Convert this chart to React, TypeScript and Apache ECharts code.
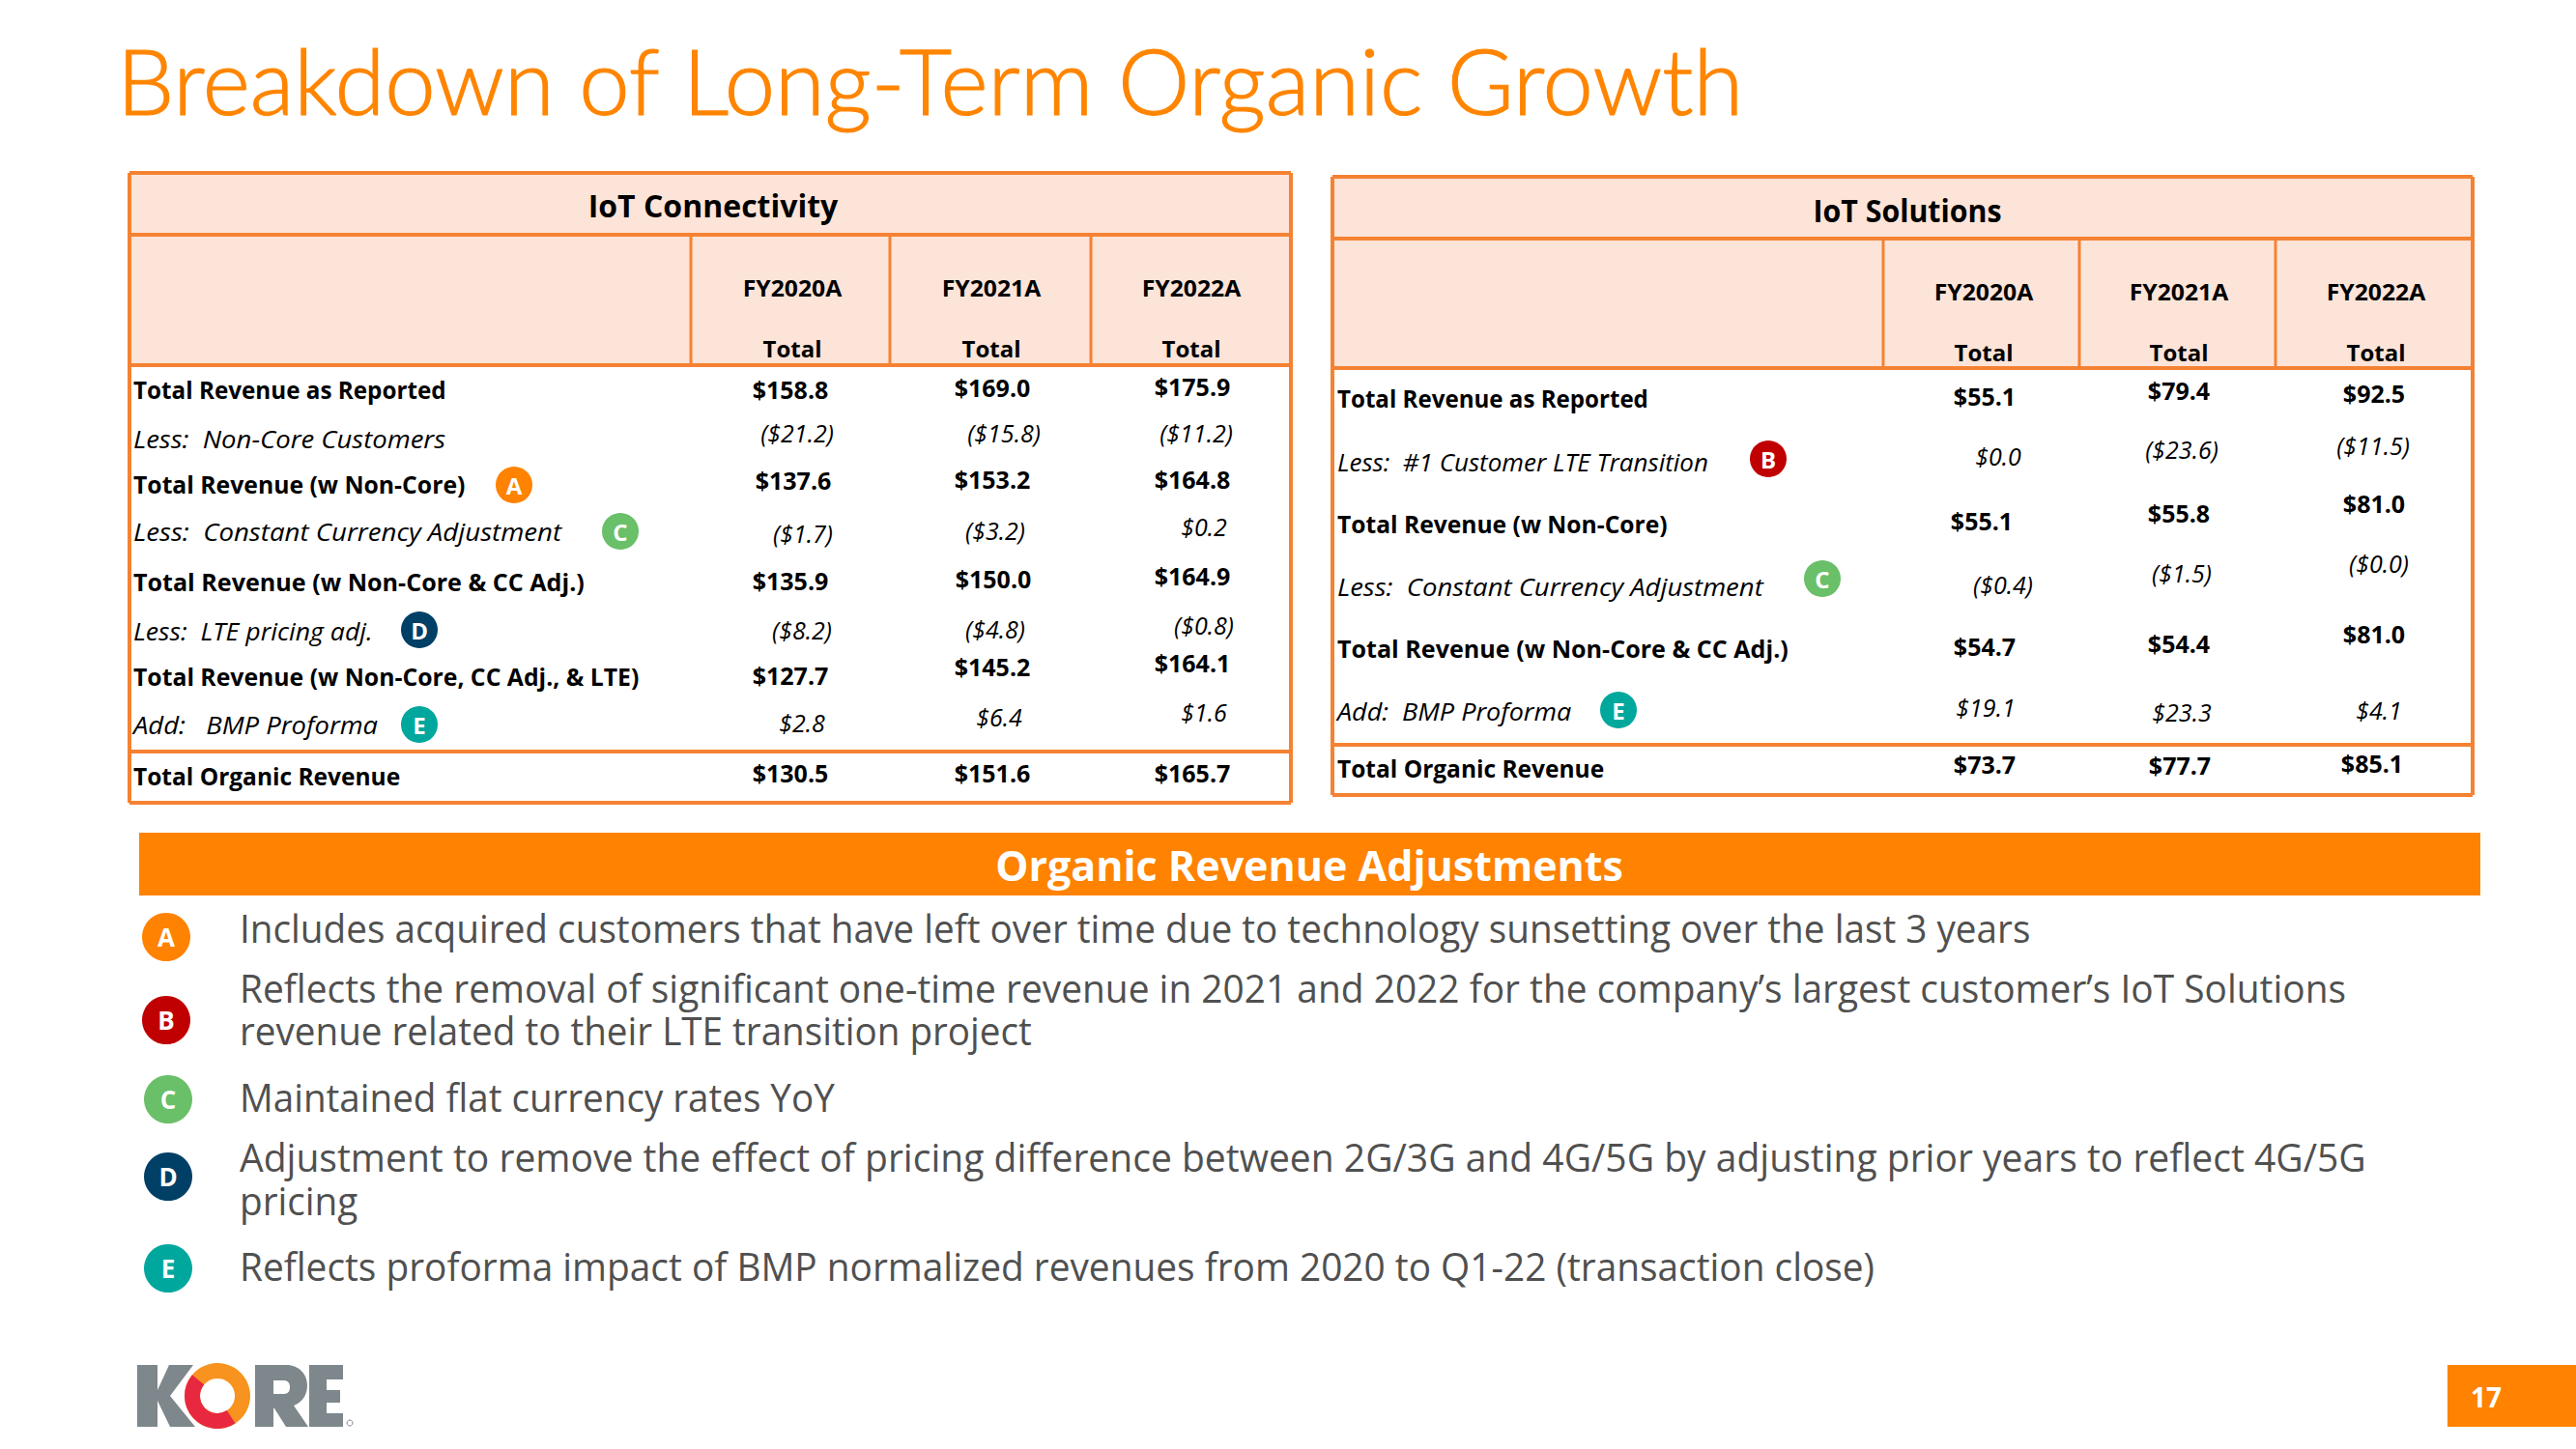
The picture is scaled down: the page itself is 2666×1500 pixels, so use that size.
import React, { useEffect, useRef } from "react";
import * as echarts from "echarts";

// ---------- content ----------
const pageTitle = "Breakdown of Long-Term Organic Growth";
const years = ["FY2020A", "FY2021A", "FY2022A"];
const subHeader = "Total";

const connTitle = "IoT Connectivity";
const connRows = [
  "Total Revenue as Reported",
  "Less:  Non-Core Customers",
  "Total Revenue (w Non-Core)",
  "Less:  Constant Currency Adjustment",
  "Total Revenue (w Non-Core & CC Adj.)",
  "Less:  LTE pricing adj.",
  "Total Revenue (w Non-Core, CC Adj., & LTE)",
  "Add:   BMP Proforma",
  "Total Organic Revenue",
];
const conn2020 = ["$158.8", "($21.2)", "$137.6", "($1.7)", "$135.9", "($8.2)", "$127.7", "$2.8", "$130.5"];
const conn2021 = ["$169.0", "($15.8)", "$153.2", "($3.2)", "$150.0", "($4.8)", "$145.2", "$6.4", "$151.6"];
const conn2022 = ["$175.9", "($11.2)", "$164.8", "$0.2", "$164.9", "($0.8)", "$164.1", "$1.6", "$165.7"];

const solTitle = "IoT Solutions";
const solRows = [
  "Total Revenue as Reported",
  "Less:  #1 Customer LTE Transition",
  "Total Revenue (w Non-Core)",
  "Less:  Constant Currency Adjustment",
  "Total Revenue (w Non-Core & CC Adj.)",
  "Add:  BMP Proforma",
  "Total Organic Revenue",
];
const sol2020 = ["$55.1", "$0.0", "$55.1", "($0.4)", "$54.7", "$19.1", "$73.7"];
const sol2021 = ["$79.4", "($23.6)", "$55.8", "($1.5)", "$54.4", "$23.3", "$77.7"];
const sol2022 = ["$92.5", "($11.5)", "$81.0", "($0.0)", "$81.0", "$4.1", "$85.1"];

const bannerText = "Organic Revenue Adjustments";
const noteLetters = ["A", "B", "C", "D", "E"];
const noteLines = [
  ["Includes acquired customers that have left over time due to technology sunsetting over the last 3 years"],
  [
    "Reflects the removal of significant one-time revenue in 2021 and 2022 for the company\u2019s largest customer\u2019s IoT Solutions",
    "revenue related to their LTE transition project",
  ],
  ["Maintained flat currency rates YoY"],
  [
    "Adjustment to remove the effect of pricing difference between 2G/3G and 4G/5G by adjusting prior years to reflect 4G/5G",
    "pricing",
  ],
  ["Reflects proforma impact of BMP normalized revenues from 2020 to Q1-22 (transaction close)"],
];
const pageNumber = "17";

// ---------- layout (pixel positions of the slide) ----------
const ORANGE = "#F58232";
const PEACH = "#FDE4D8";
const BANNER = "#FF8200";
const badgeColor: Record<string, string> = { A: "#FF8200", B: "#C00000", C: "#6ABF69", D: "#003F66", E: "#00A79D" };
const HEAD = "Lato, 'Noto Sans', sans-serif";
const BODY = "'Open Sans', 'Noto Sans', sans-serif";
const SHIFT = -1.5;

const connLayout = {
  x0: 134, x1: 1336, top: 179, titleLine: 243, headLine: 378, footLine: 778, bottom: 831,
  cols: [715, 921, 1129], titleX: 738, titleY: 212, titleScale: 0.97, yearY: 298, totalY: 360, yearX: [820, 1026, 1233], totalX: [820, 1026, 1233],
  labelX: 138, labelY: [404.5, 455.5, 502.5, 552.5, 603.5, 654.5, 701.5, 751.5, 804.5],
  labelScale: [0.97, 1.1, 0.99, 1.106, 1.004, 1.066, 0.991, 1.096, 0.98],
  xs: [
    [818, 825, 821, 831, 818, 830, 818, 830, 818],
    [1027, 1039, 1027, 1030, 1028, 1030, 1027, 1034, 1027],
    [1234, 1238, 1234, 1246, 1234, 1246, 1234, 1246, 1234],
  ],
  ys: [
    [404, 449, 498, 553, 602, 653, 700, 749, 801],
    [402, 449, 497, 550, 600, 652, 691, 743, 801],
    [401, 449, 497, 546, 597, 648, 687, 738, 801],
  ],
  badges: [["A", 532, 502], ["C", 642, 550], ["D", 434, 652], ["E", 434, 750]] as [string, number, number][],
};
const solLayout = {
  x0: 1379, x1: 2559, top: 183, titleLine: 247, headLine: 381, footLine: 771, bottom: 823,
  cols: [1949, 2152, 2355], titleX: 1974, titleY: 217, titleScale: 0.92, yearY: 302, totalY: 364, yearX: [2053, 2255, 2459], totalX: [2053, 2255, 2459],
  labelX: 1384, labelY: [413.5, 479.5, 543.5, 608.5, 672.5, 737.5, 796.5],
  labelScale: [0.965, 1.04, 0.985, 1.1, 1.004, 1.08, 0.98],
  xs: [
    [2054, 2068, 2051, 2073, 2054, 2055, 2054],
    [2255, 2258, 2255, 2258, 2255, 2258, 2256],
    [2457, 2456, 2457, 2462, 2457, 2462, 2455],
  ],
  ys: [
    [411, 473, 540, 606, 670, 733, 792],
    [405, 466, 532, 594, 667, 738, 793],
    [408, 462, 522, 584, 657, 736, 791],
  ],
  badges: [["B", 1830, 475], ["C", 1886, 599], ["E", 1675, 735]] as [string, number, number][],
};
const noteBadgeXY: [number, number][] = [[172, 970], [172, 1056], [174, 1138], [174, 1218], [174, 1313]];
const noteTextY = [[960.5], [1022.5, 1066.5], [1135.5], [1197.5, 1242.5], [1310.5]];
const noteScale = [[0.968], [0.972, 0.966], [0.965], [0.976, 0.968], [0.971]];

const KORE_R =
  "M264 1413 H296 C310 1413 318 1423 318 1434 C318 1445 312 1452 304 1455 L319 1477 H296 L284 1458 H283 V1477 H264 Z " +
  "M283 1429 V1443 H294 C299 1443 300 1439 300 1436 C300 1432 298 1429 294 1429 Z";
const KORE_K: number[][] = [[142, 1413], [163, 1413], [163, 1439], [175, 1413], [200, 1413], [176, 1445], [202, 1477], [176, 1477], [163, 1450], [163, 1477], [142, 1477]];
const KORE_E: number[][] = [[320, 1413], [355, 1413], [355, 1428], [338, 1428], [338, 1439], [352, 1439], [352, 1452], [338, 1452], [338, 1463], [355, 1463], [355, 1477], [320, 1477]];

function text(str: string, x: number, y: number, o: any = {}) {
  const { scaleX, ...style } = o;
  return {
    type: "text",
    x,
    y,
    scaleX: scaleX ?? 1,
    silent: true,
    style: { text: str, align: "left", verticalAlign: "middle", fill: "#000", fontFamily: BODY, fontSize: 26, ...style },
  };
}
function rect(x: number, y: number, w: number, h: number, fill: string) {
  return { type: "rect", silent: true, shape: { x, y, width: w, height: h }, style: { fill } };
}
function line(x1: number, y1: number, x2: number, y2: number, w: number) {
  return { type: "line", silent: true, shape: { x1, y1, x2, y2 }, style: { stroke: ORANGE, lineWidth: w } };
}
function badge(l: string, x: number, y: number, r: number, fs: number) {
  return [
    { type: "circle", silent: true, shape: { cx: x, cy: y, r }, style: { fill: badgeColor[l] } },
    text(l, x, y, { align: "center", fill: "#fff", fontSize: fs, fontWeight: "bold" }),
  ];
}

function table(title: string, rows: string[], vals: string[][], L: any) {
  const out: any[] = [];
  out.push(rect(L.x0, L.top, L.x1 - L.x0, L.headLine - L.top, PEACH));
  out.push(line(L.x0, L.top, L.x1, L.top, 4), line(L.x0, L.titleLine, L.x1, L.titleLine, 4));
  out.push(line(L.x0, L.headLine, L.x1, L.headLine, 4), line(L.x0, L.footLine, L.x1, L.footLine, 4));
  out.push(line(L.x0, L.bottom, L.x1, L.bottom, 4));
  out.push(line(L.x0, L.top, L.x0, L.bottom, 4), line(L.x1, L.top, L.x1, L.bottom, 4));
  L.cols.forEach((c: number) => out.push(line(c, L.titleLine, c, L.headLine, 3)));
  out.push(text(title, L.titleX, L.titleY, { align: "center", fontSize: 33, fontWeight: "bold", scaleX: L.titleScale }));
  years.forEach((y, i) => {
    out.push(text(y, L.yearX[i], L.yearY, { align: "center", fontSize: 24, fontWeight: "bold", scaleX: 1.03 }));
    out.push(text(subHeader, L.totalX[i], L.totalY, { align: "center", fontSize: 24, fontWeight: "bold" }));
  });
  rows.forEach((r, i) => {
    const plain = /^(Less|Add)/.test(r);
    out.push(
      text(r, L.labelX, L.labelY[i] + SHIFT, {
        fontSize: 25,
        fontWeight: plain ? "normal" : "bold",
        fontStyle: plain ? "italic" : "normal",
        scaleX: L.labelScale[i],
      })
    );
    vals.forEach((col, c) => {
      out.push(
        text(col[i], L.xs[c][i], L.ys[c][i] + SHIFT, {
          align: "center",
          fontSize: 25,
          fontWeight: plain ? "normal" : "bold",
          fontStyle: plain ? "italic" : "normal",
        })
      );
    });
  });
  L.badges.forEach(([l, x, y]: [string, number, number]) => out.push(...badge(l, x, y, 19, 24)));
  return out;
}

function logo() {
  const gray = "#7E878B";
  const RAD = Math.PI / 180;
  return [
    { type: "polygon", silent: true, shape: { points: KORE_K }, style: { fill: gray } },
    { type: "koreR", silent: true, style: { fill: gray } },
    { type: "polygon", silent: true, shape: { points: KORE_E }, style: { fill: gray } },
    { type: "sector", silent: true, shape: { cx: 225, cy: 1445, r0: 18, r: 34, startAngle: 0, endAngle: Math.PI * 2 }, style: { fill: "#F7931E" } },
    { type: "sector", silent: true, shape: { cx: 225, cy: 1445, r0: 18, r: 34, startAngle: 57 * RAD, endAngle: 220 * RAD }, style: { fill: "#E8283F" } },
    { type: "circle", silent: true, shape: { cx: 362, cy: 1473, r: 3 }, style: { fill: "none", stroke: gray, lineWidth: 1 } },
  ];
}

export default function App() {
  const ref = useRef<HTMLDivElement>(null);
  useEffect(() => {
    document.body.style.margin = "0";
    echarts.graphic.registerShape("koreR", echarts.graphic.extendPath(KORE_R, {}));
    const chart = echarts.init(ref.current!, undefined, { renderer: "svg" });
    const elements: any[] = [
      text(pageTitle, 121, 82, { fontSize: 94, fill: "#FF8500", fontFamily: HEAD, fontWeight: 300, stroke: "#FF8500", lineWidth: 1.2 }),
      ...table(connTitle, connRows, [conn2020, conn2021, conn2022], connLayout),
      ...table(solTitle, solRows, [sol2020, sol2021, sol2022], solLayout),
      rect(144, 862, 2423, 65, BANNER),
      text(bannerText, 1355, 895, { align: "center", fontSize: 43, fontWeight: "bold", fill: "#fff" }),
    ];
    noteLetters.forEach((l, i) => {
      elements.push(...badge(l, noteBadgeXY[i][0], noteBadgeXY[i][1], 25, 26));
      noteLines[i].forEach((t, j) => {
        elements.push(text(t, 248, noteTextY[i][j], { fontSize: 40, fill: "#505050", scaleX: noteScale[i][j] }));
      });
    });
    elements.push(...logo());
    elements.push(rect(2533, 1413, 133, 64, BANNER));
    elements.push(text(pageNumber, 2573, 1446, { align: "center", fontSize: 28, fontWeight: "bold", fill: "#fff" }));
    chart.setOption({ animation: false, backgroundColor: "#fff", graphic: { elements } });
    return () => chart.dispose();
  }, []);
  return <div ref={ref} style={{ width: 2666, height: 1500 }} />;
}
